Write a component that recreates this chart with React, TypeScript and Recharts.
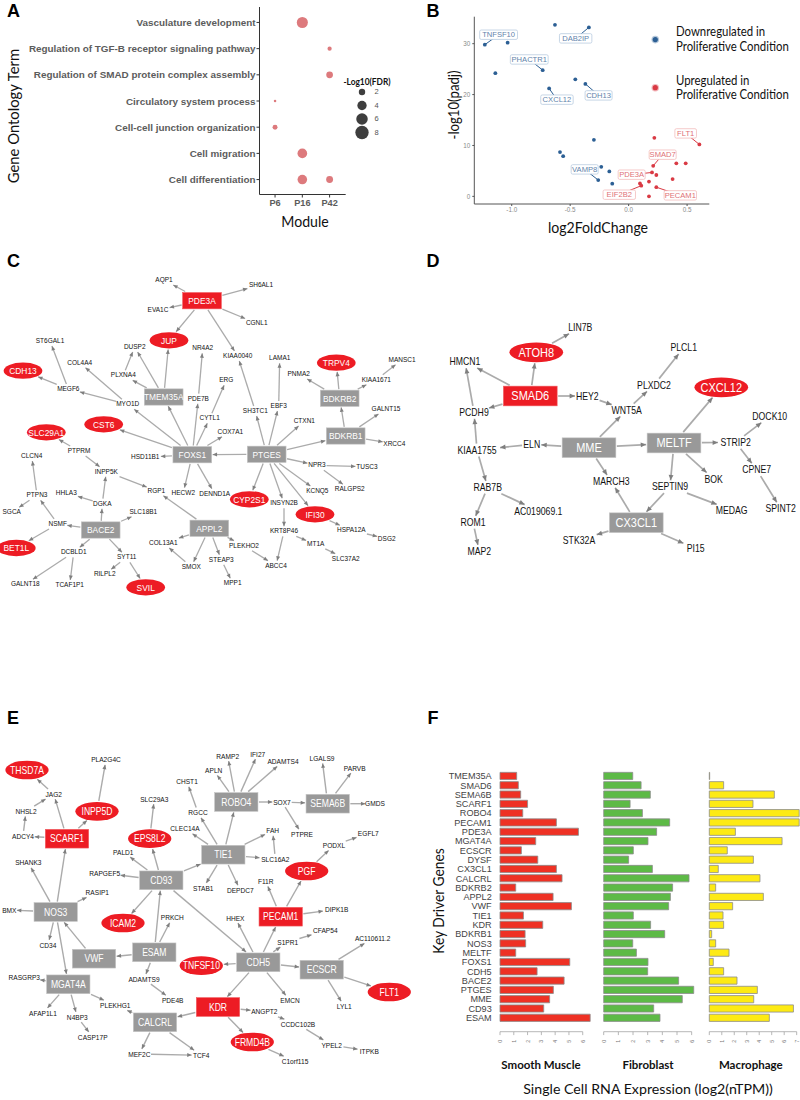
import React from "react";
import { Bar, BarChart, Scatter, ScatterChart, XAxis, YAxis, ZAxis } from "recharts";

type Pt = [string, number, number];
type EdgeGroup = [string, string[]];

const SANS = "'Liberation Sans', Arial, sans-serif";
const CALIBRI = "Lato, sans-serif";

// Panel A: GO terms vs module, bubble size is -log10(FDR)
const goTerms = [
  "Cell differentiation",
  "Cell migration",
  "Cell-cell junction organization",
  "Circulatory system process",
  "Regulation of SMAD protein complex assembly",
  "Regulation of TGF-B receptor signaling pathway",
  "Vasculature development",
];
const modules = ["P6", "P16", "P42"];
const goBubbles: [number, number, number][] = [
  [1, 6, 5.6],
  [2, 5, 1.0],
  [2, 4, 2.2],
  [0, 3, 0.5],
  [0, 2, 1.3],
  [1, 1, 4.3],
  [1, 0, 4.2],
  [2, 0, 2.3],
];
const fdrLegend = [2, 4, 6, 8];

// Panel B: volcano plot
const downPoints = [
  [-0.63, 33.7], [-0.34, 33.2], [-1.23, 29.8], [-1.035, 30.2], [-0.735, 24.8], [-1.14, 24.2],
  [-0.456, 23.0], [-0.37, 22.1], [-0.68, 21.2], [-0.297, 11.1], [-0.587, 8.7], [-0.56, 7.9],
  [-0.234, 5.8], [-0.165, 4.9], [-0.26, 3.2], [-0.14, 2.5],
];
const upPoints = [
  [0.22, 11.5], [0.605, 10.2], [0.408, 6.5], [0.488, 6.5], [0.21, 6.0], [0.2, 4.7], [0.237, 4.2],
  [0.376, 3.4], [0.174, 2.9], [0.097, 2.55], [0.108, 2.1], [0.237, 1.8], [0.174, 0],
];
// name, point x, point y, label x, label y
const downLabels: [string, number, number, number, number][] = [
  ["TNFSF10", -1.23, 29.8, -1.112, 31.76],
  ["DAB2IP", -0.34, 33.2, -0.453, 31.04],
  ["PHACTR1", -0.735, 24.8, -0.85, 26.9],
  ["CXCL12", -0.68, 21.2, -0.613, 19.0],
  ["CDH13", -0.37, 22.1, -0.257, 19.84],
  ["VAMP8", -0.26, 3.2, -0.376, 5.3],
];
const upLabels: [string, number, number, number, number][] = [
  ["FLT1", 0.605, 10.2, 0.488, 12.37],
  ["SMAD7", 0.21, 6.0, 0.291, 8.19],
  ["PDE3A", 0.2, 4.7, 0.026, 4.26],
  ["EIF2B2", 0.108, 2.1, -0.08, 0.33],
  ["PECAM1", 0.237, 1.8, 0.442, 0.2],
];
const volcanoLegend = [
  [0.228, 30.8, "#2c5f94"],
  [0.228, 21.35, "#d93a44"],
];

// Panel C network
const cLabels: Pt[] = [
  ["AQP1", 164, 280], ["EVA1C", 158, 310], ["ST6GAL1", 50, 341], ["DUSP2", 134.7, 347], ["NR4A2", 202.7, 348.3],
  ["COL4A4", 79.7, 362.7], ["PLXNA4", 123.3, 375.3], ["MEGF6", 68.3, 389], ["MYO1D", 127.7, 404.3],
  ["PDE7B", 198.3, 398.7], ["CYTL1", 209.7, 418.3], ["SH6AL1", 261, 285], ["CGNL1", 256.7, 323.3],
  ["KIAA0040", 237.7, 356], ["LAMA1", 279.7, 358.3], ["PNMA2", 298.7, 374], ["MANSC1", 402, 359.7],
  ["KIAA1671", 376.3, 379.7], ["ERG", 226.3, 380.3], ["SH3TC1", 255.3, 411], ["EBF3", 278.7, 406],
  ["GALNT15", 386, 409], ["CTXN1", 304.3, 421], ["COX7A1", 230.3, 431.7], ["XRCC4", 394.3, 443.7],
  ["NPR3", 317, 465.3], ["TUSC3", 367, 466.7], ["KCNQ5", 317.3, 491], ["RALGPS2", 349.7, 489.3],
  ["INSYN2B", 284, 503.3], ["DENND1A", 214.7, 493.7], ["HSPA12A", 351.3, 530.3], ["DSG2", 386.7, 538.7],
  ["KRT8P46", 284, 531.3], ["MT1A", 315.7, 544.3], ["PLEKHO2", 244, 545.7], ["STEAP3", 221.3, 559.7],
  ["ABCC4", 276, 565.7], ["SLC37A2", 345.7, 558.7], ["MPP1", 232.7, 583.3], ["PTPRM", 79, 451],
  ["CLCN4", 31.7, 456], ["HSD11B1", 145.3, 457.3], ["INPP5K", 106.3, 471.7], ["PTPN3", 37, 495.3],
  ["HHLA3", 66.3, 493], ["RGP1", 156.3, 490.7], ["HECW2", 183.3, 492.7], ["DGKA", 102.3, 503.7],
  ["SGCA", 11.7, 512.3], ["SLC18B1", 143.3, 511.7], ["NSMF", 57.7, 524], ["COL13A1", 163.3, 543],
  ["DCBLD1", 73.7, 552.3], ["SYT11", 126.7, 557.3], ["SMOX", 191.3, 566.7], ["RILPL2", 104.7, 574.3],
  ["GALNT18", 25.3, 584.3], ["TCAF1P1", 69.7, 585],
];
const cGray: Pt[] = [
  ["TMEM35A", 163.7, 397], ["BDKRB2", 339.7, 398.3], ["BDKRB1", 345.7, 436], ["PTGES", 266.7, 454.3],
  ["FOXS1", 192.3, 454.7], ["APPL2", 209.3, 528.3], ["BACE2", 100.7, 530],
];
const cRed: Pt[] = [["PDE3A", 202, 300.7]];
const cOval: Pt[] = [
  ["JUP", 169, 340.3], ["CDH13", 23, 370.7], ["TRPV4", 336.3, 362.7], ["CST6", 103.7, 424.3],
  ["SLC29A1", 46.3, 432.3], ["CYP2S1", 249.3, 499.3], ["IFI30", 315, 514.3], ["BET1L", 16.3, 548],
  ["SVIL", 145.7, 587.3],
];
const cEdges: EdgeGroup[] = [
  ["PDE3A", ["AQP1", "EVA1C", "JUP", "SH6AL1", "CGNL1", "KIAA0040"]],
  ["TMEM35A", ["DUSP2", "JUP", "PLXNA4"]],
  ["PLXNA4", ["DUSP2"]],
  ["MYO1D", ["COL4A4", "MEGF6"]],
  ["MEGF6", ["ST6GAL1", "CDH13"]],
  ["FOXS1", ["MYO1D", "TMEM35A", "PDE7B", "CYTL1", "COX7A1", "CST6", "HSD11B1", "HECW2", "DENND1A"]],
  ["PDE7B", ["NR4A2"]],
  ["CYTL1", ["ERG"]],
  ["PTGES", ["FOXS1", "SH3TC1", "EBF3", "CTXN1", "BDKRB1", "NPR3", "KCNQ5", "INSYN2B", "IFI30", "CYP2S1"]],
  ["SH3TC1", ["KIAA0040"]],
  ["EBF3", ["LAMA1"]],
  ["BDKRB1", ["BDKRB2", "GALNT15", "XRCC4"]],
  ["BDKRB2", ["PNMA2", "TRPV4", "KIAA1671"]],
  ["KIAA1671", ["MANSC1"]],
  ["NPR3", ["TUSC3", "RALGPS2"]],
  ["IFI30", ["HSPA12A"]],
  ["HSPA12A", ["DSG2"]],
  ["INSYN2B", ["KRT8P46"]],
  ["KRT8P46", ["MT1A", "ABCC4"]],
  ["MT1A", ["SLC37A2"]],
  ["APPL2", ["RGP1", "COL13A1", "SMOX", "STEAP3", "PLEKHO2"]],
  ["SMOX", ["COL13A1"]],
  ["STEAP3", ["MPP1"]],
  ["PLEKHO2", ["ABCC4"]],
  ["BACE2", ["DGKA", "SLC18B1", "NSMF", "DCBLD1", "SYT11"]],
  ["DGKA", ["HHLA3", "INPP5K"]],
  ["INPP5K", ["RGP1"]],
  ["PTPRM", ["SLC29A1", "INPP5K"]],
  ["NSMF", ["PTPN3", "BET1L"]],
  ["PTPN3", ["CLCN4", "SGCA"]],
  ["DCBLD1", ["GALNT18", "TCAF1P1"]],
  ["SYT11", ["RILPL2", "SVIL"]],
];

// Panel D network
const dLabels: Pt[] = [
  ["LIN7B", 580.3, 327.3], ["PLCL1", 683.7, 347.7], ["HMCN1", 465, 361.7], ["PLXDC2", 654, 385], ["HEY2", 587.3, 396],
  ["PCDH9", 474, 412.3], ["WNT5A", 626.7, 410], ["DOCK10", 769.7, 416.3], ["STRIP2", 735.7, 442.3], ["ELN", 531.7, 444.3],
  ["KIAA1755", 477, 450], ["CPNE7", 756.7, 469.7], ["BOK", 713.7, 479], ["MARCH3", 611.3, 481.3], ["SEPTIN9", 670, 486.7],
  ["RAB7B", 487.7, 487.3], ["SPINT2", 780.7, 508.7], ["MEDAG", 731.7, 510], ["AC019069.1", 538.3, 511], ["ROM1", 473, 522.3],
  ["STK32A", 579, 540], ["PI15", 695.7, 548.7], ["MAP2", 479.3, 551.3],
];
const dGray: Pt[] = [["MELTF", 674, 443], ["MME", 589, 447.7], ["CX3CL1", 636.3, 522.7]];
const dRed: Pt[] = [["SMAD6", 530.3, 396]];
const dOval: Pt[] = [["ATOH8", 536.3, 352.3], ["CXCL12", 721.3, 387.3]];
const dEdges: EdgeGroup[] = [
  ["ATOH8", ["LIN7B"]],
  ["SMAD6", ["ATOH8", "HMCN1", "PCDH9", "HEY2"]],
  ["HEY2", ["WNT5A"]],
  ["WNT5A", ["PLXDC2"]],
  ["PLXDC2", ["PLCL1"]],
  ["MME", ["WNT5A", "MELTF", "ELN", "MARCH3"]],
  ["ELN", ["KIAA1755"]],
  ["KIAA1755", ["PCDH9", "RAB7B"]],
  ["PCDH9", ["HMCN1"]],
  ["MELTF", ["CXCL12", "STRIP2", "BOK", "SEPTIN9"]],
  ["STRIP2", ["DOCK10", "CPNE7"]],
  ["CPNE7", ["SPINT2"]],
  ["SEPTIN9", ["MEDAG", "CX3CL1"]],
  ["CX3CL1", ["MARCH3", "STK32A", "PI15"]],
  ["RAB7B", ["AC019069.1", "ROM1"]],
  ["ROM1", ["MAP2"]],
];

// Panel E network
const eLabels: Pt[] = [
  ["PLA2G4C", 106, 759.7], ["JAG2", 53.7, 794], ["SLC29A3", 154.3, 799], ["CHST1", 187, 781.7], ["NHSL2", 26, 811.3],
  ["RGCC", 198, 812.7], ["CLEC14A", 185, 828.7], ["ADCY4", 23, 836], ["SHANK3", 28.3, 862.7], ["PALD1", 123.3, 852],
  ["RAPGEF5", 104.7, 873.3], ["STAB1", 203.3, 888], ["RASIP1", 97.3, 892.3], ["RAMP2", 227.7, 756], ["IFI27", 257.7, 754],
  ["ADAMTS4", 283, 761.3], ["APLN", 213.7, 770.3], ["LGALS9", 322, 758.3], ["PARVB", 354.7, 768], ["SOX7", 282, 802],
  ["GMDS", 375, 803.7], ["PTPRE", 302, 834.3], ["FAH", 272.7, 830.7], ["EGFL7", 368.3, 833.3], ["PODXL", 334, 845.3],
  ["SLC16A2", 275.3, 859], ["F11R", 265.7, 881.3], ["DEPDC7", 240.3, 890.3], ["BMX", 9.3, 910], ["PRKCH", 172.3, 917.7],
  ["HHEX", 235.3, 918], ["DIPK1B", 336.7, 909.3], ["CFAP54", 325.3, 930.7], ["S1PR1", 287.7, 942], ["AC110611.2", 372.7, 938.3],
  ["CD34", 48, 945], ["RASGRP3", 24.3, 977.3], ["ADAMTS9", 144, 979], ["PDE4B", 172.7, 1000.3], ["EMCN", 290, 1000.3],
  ["LYL1", 344.3, 1006.3], ["PLEKHG1", 115.3, 1005.3], ["AFAP1L1", 43, 1013], ["ANGPT2", 264.3, 1011.7], ["N4BP3", 77.3, 1017],
  ["CCDC102B", 298, 1024.3], ["CASP17P", 92.7, 1037], ["YPEL2", 331.7, 1045], ["ITPKB", 369.3, 1051], ["MEF2C", 139.3, 1054],
  ["TCF4", 201.3, 1055.3], ["C1orf115", 295, 1061.3],
];
const eGray: Pt[] = [
  ["TIE1", 223.3, 854.7], ["CD93", 161.3, 880.3], ["ROBO4", 236.3, 802], ["SEMA6B", 327.7, 803.7], ["NOS3", 55.7, 912],
  ["ESAM", 154.3, 952.3], ["VWF", 94, 958.7], ["CDH5", 258.3, 962.3], ["ECSCR", 321.7, 969.7], ["MGAT4A", 68.3, 984.3],
  ["CALCRL", 155, 1022.3],
];
const eRed: Pt[] = [["SCARF1", 67, 838.7], ["PECAM1", 280.7, 916.7], ["KDR", 218, 1007]];
const eOval: Pt[] = [
  ["THSD7A", 27, 770], ["INPP5D", 97, 811.3], ["EPS8L2", 149.7, 838.7], ["PGF", 306.7, 871], ["ICAM2", 123, 923],
  ["TNFSF10", 201.3, 965.7], ["FLT1", 389.3, 992], ["FRMD4B", 252.3, 1042],
];
const eEdges: EdgeGroup[] = [
  ["SCARF1", ["JAG2", "INPP5D", "ADCY4"]],
  ["JAG2", ["THSD7A"]],
  ["NHSL2", ["JAG2"]],
  ["ADCY4", ["NHSL2"]],
  ["INPP5D", ["PLA2G4C"]],
  ["NOS3", ["SCARF1", "SHANK3", "RASIP1", "BMX", "CD34", "MGAT4A"]],
  ["EPS8L2", ["SLC29A3"]],
  ["CD93", ["EPS8L2", "PALD1", "RAPGEF5", "TIE1", "ICAM2", "CDH5"]],
  ["ESAM", ["CD93", "PRKCH", "VWF", "ADAMTS9"]],
  ["VWF", ["NOS3"]],
  ["ADAMTS9", ["PDE4B"]],
  ["TIE1", ["CLEC14A", "RGCC", "ROBO4", "FAH", "SLC16A2", "STAB1", "DEPDC7"]],
  ["RGCC", ["CHST1"]],
  ["SLC16A2", ["FAH"]],
  ["ROBO4", ["APLN", "RAMP2", "IFI27", "ADAMTS4", "SOX7"]],
  ["SOX7", ["SEMA6B", "PTPRE"]],
  ["SEMA6B", ["LGALS9", "PARVB", "GMDS"]],
  ["PECAM1", ["F11R", "PGF", "DIPK1B"]],
  ["PGF", ["PODXL"]],
  ["PODXL", ["EGFL7"]],
  ["CDH5", ["PECAM1", "HHEX", "S1PR1", "TNFSF10", "ECSCR", "KDR", "EMCN"]],
  ["S1PR1", ["CFAP54"]],
  ["ECSCR", ["AC110611.2", "FLT1", "LYL1"]],
  ["KDR", ["CALCRL", "ANGPT2", "FRMD4B"]],
  ["FRMD4B", ["C1orf115"]],
  ["ANGPT2", ["CCDC102B"]],
  ["CCDC102B", ["YPEL2"]],
  ["YPEL2", ["ITPKB"]],
  ["CALCRL", ["PLEKHG1", "MEF2C", "TCF4"]],
  ["MEF2C", ["TCF4"]],
  ["MGAT4A", ["RASGRP3", "AFAP1L1", "N4BP3", "PLEKHG1"]],
  ["N4BP3", ["CASP17P"]],
];

// Panel F: log2(nTPM) per key driver gene
const driverGenes = [
  "TMEM35A", "SMAD6", "SEMA6B", "SCARF1", "ROBO4", "PECAM1", "PDE3A", "MGAT4A", "ECSCR", "DYSF", "CX3CL1", "CALCRL", "BDKRB2",
  "APPL2", "VWF", "TIE1", "KDR", "BDKRB1", "NOS3", "MELTF", "FOXS1", "CDH5", "BACE2", "PTGES", "MME", "CD93", "ESAM",
];
const smoothMuscle = [
  1.21, 1.33, 1.5, 2.0, 1.65, 4.09, 5.69, 2.59, 1.55, 2.74, 4.09, 4.5, 1.14, 3.85, 5.18, 1.7, 3.1, 1.82, 1.86, 1.14, 5.06, 2.69,
  4.65, 3.87, 3.6, 3.17, 6.54,
];
const fibroblast = [
  1.98, 2.55, 3.18, 1.8, 2.64, 4.5, 3.61, 3.02, 2.02, 1.7, 3.32, 5.82, 4.7, 4.55, 4.43, 2.02, 3.2, 4.16, 1.98, 2.23, 3.02, 3.0,
  5.11, 6.14, 5.36, 3.41, 3.84,
];
const macrophage = [
  0.03, 1.15, 5.21, 3.5, 7.2, 7.2, 2.09, 5.83, 1.44, 3.53, 0.72, 4.06, 0.51, 4.33, 1.87, 1.1, 1.15, 0.19, 0.51, 1.58, 0.32, 1.15,
  2.22, 3.85, 3.56, 6.74, 4.81,
];

const table = (values: number[]) => driverGenes.map((gene, i) => ({ gene, value: values[i] }));

function Caption({
  x,
  y,
  size,
  children,
  bold,
  rotate,
  squeeze = 1,
  font = CALIBRI,
  color = "#111",
  left,
}: {
  x: number;
  y: number;
  size: number;
  children: React.ReactNode;
  bold?: boolean;
  rotate?: boolean;
  squeeze?: number;
  font?: string;
  color?: string;
  left?: boolean;
}) {
  const shift = left ? "translate(0,-50%)" : "translate(-50%,-50%)";
  return (
    <div
      style={{
        position: "absolute",
        left: x,
        top: y,
        whiteSpace: "nowrap",
        fontFamily: font,
        fontSize: size,
        fontWeight: bold ? 700 : 400,
        color,
        lineHeight: 1,
        transformOrigin: left ? "0 50%" : "50% 50%",
        transform: `${shift}${rotate ? " rotate(-90deg)" : ""} scaleX(${squeeze})`,
      }}
    >
      {children}
    </div>
  );
}

function Pane({ x, y, children }: { x: number; y: number; children: React.ReactNode }) {
  return <div style={{ position: "absolute", left: x, top: y }}>{children}</div>;
}

function TermTick({ x, y, payload }: any) {
  // a plain text tick, the axis would wrap the two long terms otherwise
  return (
    <text
      x={x}
      y={y}
      textAnchor="end"
      dominantBaseline="central"
      fontSize={9.9}
      fontWeight={700}
      fill="#5c5c5c"
      fontFamily={SANS}
    >
      {goTerms[payload.value]}
    </text>
  );
}

function GoDotPlot() {
  const data = goBubbles.map(([x, y, z]) => ({ x, y, z }));
  return (
    <ScatterChart width={360} height={225} margin={{ top: 7, right: 14.3, bottom: 0, left: 0 }}>
      <XAxis
        type="number"
        dataKey="x"
        domain={[-0.57, 2.59]}
        ticks={[0, 1, 2]}
        interval={0}
        height={30.5}
        tickFormatter={(v) => modules[v]}
        tick={{ fontSize: 9.2, fontWeight: 700, fill: "#5c5c5c", fontFamily: SANS }}
        tickSize={3}
        stroke="#333"
      />
      <YAxis
        type="number"
        dataKey="y"
        domain={[-0.57, 6.59]}
        ticks={[0, 1, 2, 3, 4, 5, 6]}
        interval={0}
        width={259.5}
        tick={(p: any) => <TermTick {...p} />}
        tickSize={3}
        tickMargin={1}
        stroke="#333"
      />
      <ZAxis type="number" dataKey="z" domain={[0.5, 8]} range={[5, 140]} />
      <Scatter data={data} fill="#dd7a7d" isAnimationActive={false} />
    </ScatterChart>
  );
}

function FdrLegend() {
  const data = fdrLegend.map((v) => ({ x: 22, y: v, z: v }));
  const shape = (p: any) => (
    <g>
      <circle cx={p.cx} cy={p.cy} r={p.width / 2} fill="#3e3e3e" />
      <text x={p.cx + 14.7} y={p.cy} fontSize={7.5} fill="#555" fontFamily={SANS} textAnchor="middle" dominantBaseline="central">
        {p.payload.y}
      </text>
    </g>
  );
  return (
    <ScatterChart width={60} height={68} margin={{ top: 0, right: 0, bottom: 0, left: 0 }}>
      <XAxis type="number" dataKey="x" domain={[0, 60]} hide />
      <YAxis type="number" dataKey="y" domain={[-0.07, 10]} reversed hide />
      <ZAxis type="number" dataKey="z" domain={[2, 8]} range={[32, 140]} />
      <Scatter data={data} shape={shape} isAnimationActive={false} />
    </ScatterChart>
  );
}

function Volcano() {
  const dot = (color: string, r: number) => (p: any) => <circle cx={p.cx} cy={p.cy} r={r} fill={color} />;
  const tag = (ink: string, edge: string) => (p: any) => {
    if (!p.payload.name) return <g />;
    const w = p.payload.name.length * 5.4;
    return (
      <g>
        <rect x={p.cx - w / 2} y={p.cy - 4.7} width={w} height={9.4} rx={1.5} fill="#fff" stroke={edge} strokeWidth={0.8} />
        <text x={p.cx} y={p.cy} fontSize={7.6} fill={ink} fontFamily={SANS} textAnchor="middle" dominantBaseline="central">
          {p.payload.name}
        </text>
      </g>
    );
  };
  const leader = (row: [string, number, number, number, number], color: string, ink: string, edge: string) => (
    <Scatter
      key={row[0]}
      data={[
        { x: row[1], y: row[2] },
        { x: row[3], y: row[4], name: row[0] },
      ]}
      line={{ stroke: color, strokeWidth: 1 }}
      shape={tag(ink, edge)}
      isAnimationActive={false}
    />
  );
  const tick = { fontSize: 6.3, fill: "#8a8a8a", fontFamily: SANS };
  return (
    <ScatterChart width={300} height={235} margin={{ top: 16.7, right: 10.7, bottom: 0, left: 0 }}>
      <XAxis
        type="number"
        dataKey="x"
        domain={[-1.32, 0.69]}
        ticks={[-1, -0.5, 0, 0.5]}
        interval={0}
        tickFormatter={(v) => v.toFixed(1)}
        height={31}
        tick={tick}
        tickSize={2}
        stroke="#555"
      />
      <YAxis
        type="number"
        dataKey="y"
        domain={[-1.5, 35.3]}
        ticks={[0, 10, 20, 30]}
        interval={0}
        width={54.3}
        tick={tick}
        tickSize={2}
        stroke="#555"
      />
      {downLabels.map((row) => leader(row, "#2c5f94", "#5f83ab", "#b9cbdf"))}
      {upLabels.map((row) => leader(row, "#d93a44", "#e07076", "#f2bcbc"))}
      <Scatter data={downPoints.map(([x, y]) => ({ x, y }))} shape={dot("#2c5f94", 1.9)} isAnimationActive={false} />
      <Scatter data={upPoints.map(([x, y]) => ({ x, y }))} shape={dot("#d93a44", 1.9)} isAnimationActive={false} />
      {volcanoLegend.map(([x, y, color]) => (
        <Scatter
          key={color as string}
          data={[{ x, y }]}
          shape={(p: any) => (
            <g>
              <circle cx={p.cx} cy={p.cy} r={3.8} fill={color as string} fillOpacity={0.35} />
              <circle cx={p.cx} cy={p.cy} r={2.6} fill={color as string} />
            </g>
          )}
          isAnimationActive={false}
        />
      ))}
    </ScatterChart>
  );
}

type NetProps = {
  box: [number, number, number, number];
  labels: Pt[];
  gray: Pt[];
  red: Pt[];
  oval: Pt[];
  edges: EdgeGroup[];
  nodeW: number;
  nodeH: number;
  labelFont: number;
  nodeFont: number;
  head: number;
  line: number;
};

function Network({ box, labels, gray, red, oval, edges, nodeW, nodeH, labelFont, nodeFont, head, line }: NetProps) {
  const [x0, y0, w, h] = box;
  const nodes = [
    ...labels.map(([name, x, y]) => ({ name, x, y, kind: "label" })),
    ...gray.map(([name, x, y]) => ({ name, x, y, kind: "gray" })),
    ...red.map(([name, x, y]) => ({ name, x, y, kind: "red" })),
    ...oval.map(([name, x, y]) => ({ name, x, y, kind: "oval" })),
  ];
  const byName = Object.fromEntries(nodes.map((n) => [n.name, n]));

  // how far along (dx, dy) the outline of a node lies, gaps around plain labels included
  const outline = (n: { name: string; kind: string }, dx: number, dy: number) => {
    if (n.kind === "label") {
      const hw = n.name.length * labelFont * 0.31 + 1.5;
      const hh = labelFont * 0.62 + 1;
      return Math.min(hw / Math.abs(dx || 1e-6), hh / Math.abs(dy || 1e-6));
    }
    if (n.kind === "oval") {
      return 1 / Math.hypot(dx / (nodeW / 2 + 1), dy / (nodeH / 2 + 1));
    }
    return Math.min((nodeW / 2 + 1) / Math.abs(dx || 1e-6), (nodeH / 2 + 1) / Math.abs(dy || 1e-6));
  };

  const segments = edges.flatMap(([from, targets]) =>
    targets.map((to) => {
      const a = byName[from];
      const b = byName[to];
      const dx = b.x - a.x;
      const dy = b.y - a.y;
      const ta = outline(a, dx, dy);
      const tb = outline(b, dx, dy);
      return {
        key: `${from}-${to}`,
        points: [
          { x: a.x + dx * ta, y: a.y + dy * ta },
          { x: b.x - dx * tb, y: b.y - dy * tb, angle: (Math.atan2(dy, dx) * 180) / Math.PI },
        ],
      };
    }),
  );

  const arrow = (p: any) => {
    if (p.payload.angle === undefined) return <g />;
    return (
      <polygon
        points={`0,0 ${-head},${-head * 0.45} ${-head},${head * 0.45}`}
        fill="#7f7f7f"
        transform={`translate(${p.cx},${p.cy}) rotate(${p.payload.angle})`}
      />
    );
  };

  const node = (p: any) => {
    const { kind, name } = p.payload;
    const inner = (size: number, fill: string) => (
      <text
        transform={`translate(${p.cx},${p.cy}) scale(1,1.18)`}
        fontSize={size}
        fill={fill}
        fontFamily={SANS}
        textAnchor="middle"
        dominantBaseline="central"
      >
        {name}
      </text>
    );
    if (kind === "label") return inner(labelFont, "#111");
    if (kind === "oval") {
      return (
        <g>
          <ellipse cx={p.cx} cy={p.cy} rx={nodeW / 2} ry={nodeH / 2} fill="#ed1c24" />
          {inner(nodeFont, "#fff")}
        </g>
      );
    }
    return (
      <g>
        <rect
          x={p.cx - nodeW / 2}
          y={p.cy - nodeH / 2}
          width={nodeW}
          height={nodeH}
          fill={kind === "red" ? "#ed1c24" : "#999999"}
          stroke={kind === "red" ? "#f15a5f" : "#c4c4c4"}
          strokeWidth={0.6}
        />
        {inner(nodeFont, "#fff")}
      </g>
    );
  };

  return (
    <ScatterChart width={w} height={h} margin={{ top: 0, right: 0, bottom: 0, left: 0 }}>
      <XAxis type="number" dataKey="x" domain={[x0, x0 + w]} hide />
      <YAxis type="number" dataKey="y" domain={[y0, y0 + h]} reversed hide />
      {segments.map((s) => (
        <Scatter
          key={s.key}
          data={s.points}
          line={{ stroke: "#ababab", strokeWidth: line }}
          shape={arrow}
          isAnimationActive={false}
        />
      ))}
      <Scatter data={nodes} shape={node} isAnimationActive={false} />
    </ScatterChart>
  );
}

function AxisTick({ x, y, payload, step, last }: any) {
  return (
    <g>
      <line x1={x} y1={y} x2={x} y2={y + 3.4} stroke="#999" strokeWidth={0.7} />
      {payload.value !== last && <line x1={x} y1={y} x2={x + step} y2={y} stroke="#999" strokeWidth={0.7} />}
      <text
        transform={`translate(${x},${y + 9.5}) rotate(-90)`}
        fontSize={5.3}
        fill="#777"
        fontFamily={SANS}
        textAnchor="middle"
        dominantBaseline="central"
      >
        {payload.value}
      </text>
    </g>
  );
}

function ExpressionBars({
  values,
  fill,
  max,
  ticks,
  step,
  width,
  left,
  showGenes,
}: {
  values: number[];
  fill: string;
  max: number;
  ticks: number[];
  step: number;
  width: number;
  left: number;
  showGenes?: boolean;
}) {
  return (
    <BarChart
      width={width}
      height={300}
      layout="vertical"
      data={table(values)}
      margin={{ top: 11.35, right: 0, bottom: 0, left }}
    >
      <XAxis
        type="number"
        dataKey="value"
        domain={[0, max]}
        ticks={ticks}
        interval={0}
        height={28.3}
        axisLine={false}
        tickLine={false}
        tickSize={0}
        tickMargin={0}
        tick={(p: any) => <AxisTick {...p} step={step} last={ticks[ticks.length - 1]} />}
      />
      <YAxis
        type="category"
        dataKey="gene"
        interval={0}
        hide={!showGenes}
        width={70}
        padding={{ top: 0, bottom: 9.2 }}
        axisLine={false}
        tickLine={false}
        tickSize={0}
        tickMargin={8.3}
        tick={{ fontSize: 9.1, fill: "#444", fontFamily: SANS }}
      />
      <Bar dataKey="value" fill={fill} stroke="#8c8c8c" strokeWidth={0.8} barSize={7.2} isAnimationActive={false} />
    </BarChart>
  );
}

export default function App() {
  return (
    <div style={{ position: "absolute", left: 0, top: 0, width: 800, height: 1100, background: "#fff", overflow: "hidden" }}>
      <Pane x={0} y={0}>
        <GoDotPlot />
      </Pane>
      <Pane x={340} y={78}>
        <FdrLegend />
      </Pane>
      <Pane x={420} y={0}>
        <Volcano />
      </Pane>
      <Pane x={0} y={250}>
        <Network
          box={[0, 250, 420, 350]}
          labels={cLabels}
          gray={cGray}
          red={cRed}
          oval={cOval}
          edges={cEdges}
          nodeW={38.7}
          nodeH={16.3}
          labelFont={6.5}
          nodeFont={8.4}
          head={4.4}
          line={1.3}
        />
      </Pane>
      <Pane x={420} y={270}>
        <Network
          box={[420, 270, 380, 320]}
          labels={dLabels}
          gray={dGray}
          red={dRed}
          oval={dOval}
          edges={dEdges}
          nodeW={53.7}
          nodeH={19.7}
          labelFont={8.7}
          nodeFont={11}
          head={5.4}
          line={1.7}
        />
      </Pane>
      <Pane x={0} y={700}>
        <Network
          box={[0, 700, 420, 400]}
          labels={eLabels}
          gray={eGray}
          red={eRed}
          oval={eOval}
          edges={eEdges}
          nodeW={43.3}
          nodeH={18.7}
          labelFont={6.6}
          nodeFont={8.6}
          head={4.4}
          line={1.4}
        />
      </Pane>
      <Pane x={430} y={760}>
        <ExpressionBars
          values={smoothMuscle}
          fill="#ee3124"
          max={6.6}
          ticks={[0, 1, 2, 3, 4, 5, 6]}
          step={13.77}
          width={161}
          left={0}
          showGenes
        />
      </Pane>
      <Pane x={595} y={760}>
        <ExpressionBars
          values={fibroblast}
          fill="#5dba46"
          max={6.2}
          ticks={[0, 1, 2, 3, 4, 5, 6]}
          step={14.67}
          width={99.6}
          left={8.7}
        />
      </Pane>
      <Pane x={700} y={760}>
        <ExpressionBars
          values={macrophage}
          fill="#fdea14"
          max={7.25}
          ticks={[0, 1, 2, 3, 4, 5, 6, 7]}
          step={12.48}
          width={99.8}
          left={9.3}
        />
      </Pane>

      <Caption x={13.5} y={10.7} size={18} bold font={SANS} color="#000">A</Caption>
      <Caption x={433} y={10.7} size={18} bold font={SANS} color="#000">B</Caption>
      <Caption x={13.5} y={261} size={18} bold font={SANS} color="#000">C</Caption>
      <Caption x={433} y={261} size={18} bold font={SANS} color="#000">D</Caption>
      <Caption x={13} y={718} size={18} bold font={SANS} color="#000">E</Caption>
      <Caption x={433} y={718} size={18} bold font={SANS} color="#000">F</Caption>

      <Caption x={13.3} y={115.7} size={14.8} rotate>Gene Ontology Term</Caption>
      <Caption x={305} y={221} size={15} squeeze={0.94}>Module</Caption>
      <Caption x={366.7} y={82} size={8.8} bold squeeze={0.95}>-Log10(FDR)</Caption>

      <Caption x={454.3} y={105} size={15.5} rotate squeeze={0.85}>-log10(padj)</Caption>
      <Caption x={598} y={228.3} size={15.5} squeeze={0.91}>log2FoldChange</Caption>
      <Caption x={676} y={32.3} size={12.5} left squeeze={0.91}>Downregulated in</Caption>
      <Caption x={676} y={47} size={12.5} left squeeze={0.91}>Proliferative Condition</Caption>
      <Caption x={676} y={81} size={12.5} left squeeze={0.91}>Upregulated in</Caption>
      <Caption x={676} y={95.3} size={12.5} left squeeze={0.91}>Proliferative Condition</Caption>

      <Caption x={437.5} y={901} size={15} rotate squeeze={0.92}>Key Driver Genes</Caption>
      <Caption x={541} y={1065.3} size={11.5} bold>Smooth Muscle</Caption>
      <Caption x={648} y={1065.3} size={11.5} bold>Fibroblast</Caption>
      <Caption x={750.8} y={1065.3} size={11.5} bold>Macrophage</Caption>
      <Caption x={648} y={1089.3} size={14.2}>Single Cell RNA Expression (log2(nTPM))</Caption>
    </div>
  );
}
